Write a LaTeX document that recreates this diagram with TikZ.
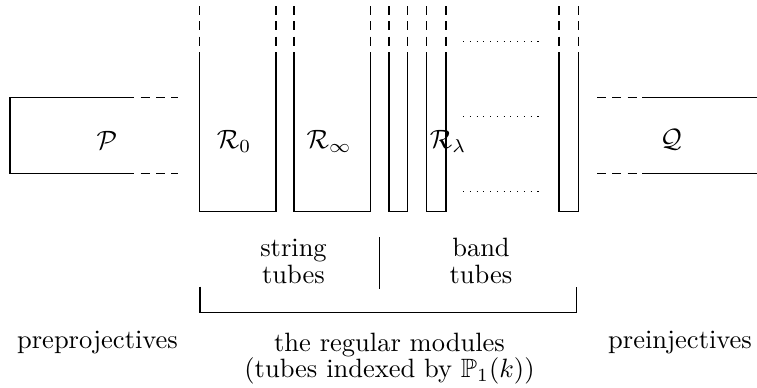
\documentclass[tikz,border=0pt]{standalone}
\usepackage{amssymb}
\begin{document}
\begin{tikzpicture}[x=0.3774pt,y=-0.3774pt,line width=0.4pt,
  dsh/.style={dash pattern=on 3.4pt off 2.4pt},
  dts/.style={dash pattern=on 0.45pt off 2.1pt},
  lbl/.style={inner sep=0pt,font=\fontsize{10}{10}\selectfont},
  blk/.style={inner sep=0pt,align=center,font=\fontsize{10}{10}\selectfont},
  txt/.style={inner sep=0pt,anchor=base,font=\fontsize{10}{12}\selectfont}]
\useasboundingbox (0,0) rectangle (757,387);
% P
\draw (131.7,97.7) -- (10,97.7) -- (10,173.3) -- (131.7,173.3);
\draw[dsh,dash phase=2.4pt] (131.7,97.7) -- (178,97.7);
\draw[dsh,dash phase=2.4pt] (131.7,173.3) -- (178,173.3);
\node[lbl] (P) at (107,140) {$\mathcal{P}$};
% Q
\draw (642,97.7) -- (757,97.7);
\draw (642,173.3) -- (757,173.3);
\draw[dsh] (597,97.7) -- (642,97.7);
\draw[dsh] (597,173.3) -- (642,173.3);
\node[lbl] (Q) at (671,140) {$\mathcal{Q}$};
% tubes
\foreach \a/\b in {199.5/276,294/370.7,389/407.7,426.7/446,559/578.3}{
  \draw (\a,52) -- (\a,211.7) -- (\b,211.7) -- (\b,52);
  \draw[dsh] (\a,6) -- (\a,52);
  \draw[dsh] (\b,6) -- (\b,52);
}
\node[lbl] (R0) at (234,141) {$\mathcal{R}_0$};
\node[lbl] (Rinf) at (329,141) {$\mathcal{R}_\infty$};
\node[lbl] (Rl) at (448,141) {$\mathcal{R}_\lambda$};
% dotted lines
\foreach \y in {41.7,116.7,191.7}{
  \draw[dts] (463,\y) -- (542,\y);
}
% bracket
\draw (200,286.7) -- (200,312.3) -- (576.7,312.3) -- (576.7,286.7);
\draw (379.3,237) -- (379.3,289);
\node[blk] (st) at (293.5,261.2) {string\\tubes};
\node[blk] (bt) at (481,260.8) {band\\tubes};
\node[txt] (pp) at (97.5,348.5) {preprojectives};
\node[txt] (pi) at (680,348.5) {preinjectives};
\node[blk] (rm) at (389.5,358.4) {the regular modules\\(tubes indexed by $\mathbb{P}_1(k)$)};
\end{tikzpicture}
\end{document}
